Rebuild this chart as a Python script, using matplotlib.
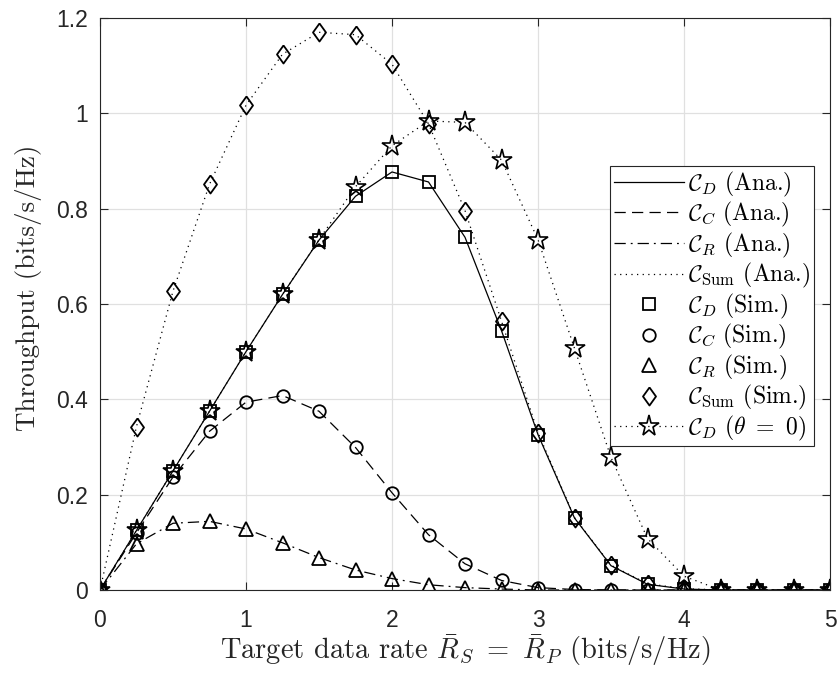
import matplotlib
matplotlib.use('Agg')
import matplotlib.pyplot as plt
import numpy as np

# target data rate grid
rate = [0, 0.25, 0.5, 0.75, 1, 1.25, 1.5, 1.75, 2, 2.25, 2.5, 2.75,
        3, 3.25, 3.5, 3.75, 4, 4.25, 4.5, 4.75, 5]

c_d = [0, 0.125, 0.25, 0.375, 0.5, 0.62, 0.734, 0.826, 0.877, 0.856, 0.740, 0.544,
       0.326, 0.151, 0.051, 0.012, 0.002, 0, 0, 0, 0]
c_c = [0, 0.12, 0.237, 0.333, 0.394, 0.408, 0.375, 0.299, 0.204, 0.116, 0.055, 0.020,
       0.005, 0.001, 0, 0, 0, 0, 0, 0, 0]
c_r = [0, 0.097, 0.140, 0.144, 0.128, 0.099, 0.068, 0.042, 0.024, 0.011, 0.005, 0.002,
       0, 0, 0, 0, 0, 0, 0, 0, 0]
c_sum = [0, 0.343, 0.627, 0.851, 1.017, 1.124, 1.170, 1.165, 1.103, 0.978, 0.796, 0.564,
         0.330, 0.152, 0.052, 0.013, 0.003, 0, 0, 0, 0]
c_d_theta0 = [0, 0.125, 0.25, 0.375, 0.5, 0.62, 0.735, 0.846, 0.932, 0.984, 0.981, 0.902,
              0.735, 0.507, 0.278, 0.108, 0.029, 0, 0, 0, 0]

plt.rcParams['mathtext.fontset'] = 'cm'
serif = 'cmr10'

fig = plt.figure(figsize=(8.4, 6.73), dpi=100)
ax = fig.add_axes([100/840, 83/673, 730/840, 572/673])

lw = 0.9
dot = (1, 3.5)
diamond = [(0, 1), (0.72, 0), (0, -1), (-0.72, 0), (0, 1)]

ax.plot(rate, c_d, '-', color='k', lw=lw, label=r'$\mathcal{C}_D$ (Ana.)')
ax.plot(rate, c_c, '--', color='k', lw=lw, dashes=(9, 5), label=r'$\mathcal{C}_C$ (Ana.)')
ax.plot(rate, c_r, '-.', color='k', lw=lw, dashes=(9, 4, 1.5, 4), label=r'$\mathcal{C}_R$ (Ana.)')
ax.plot(rate, c_sum, ':', color='k', lw=lw, dashes=dot, label=r'$\mathcal{C}_{\mathrm{Sum}}$ (Ana.)')

ms_kw = dict(ls='none', color='k', mfc='none', mew=1.3)
ax.plot(rate, c_d, marker='s', ms=8, label=r'$\mathcal{C}_D$ (Sim.)', **ms_kw)
ax.plot(rate, c_c, marker='o', ms=9, label=r'$\mathcal{C}_C$ (Sim.)', **ms_kw)
ax.plot(rate, c_r, marker='^', ms=10, label=r'$\mathcal{C}_R$ (Sim.)', **ms_kw)
ax.plot(rate, c_sum, marker=diamond, ms=13, label=r'$\mathcal{C}_{\mathrm{Sum}}$ (Sim.)', **ms_kw)
ax.plot(rate, c_d_theta0, ':', dashes=dot, marker='*', ms=15.5, color='k', mfc='none', mew=1.2,
        lw=lw, label=r'$\mathcal{C}_D$ $(\theta\ =\ 0)$')

ax.set_xlim(0, 5)
ax.set_ylim(0, 1.2)
ax.set_xticks([0, 1, 2, 3, 4, 5])
ax.set_yticks([0, 0.2, 0.4, 0.6, 0.8, 1.0, 1.2])
ax.set_yticklabels(['0', '0.2', '0.4', '0.6', '0.8', '1', '1.2'])
ax.tick_params(direction='in', top=True, right=True, length=6, width=0.8,
               labelsize=16.5, colors='#262626')
ax.tick_params(axis='x', pad=13.5)
ax.tick_params(axis='y', pad=8.5)
for lab in ax.get_xticklabels() + ax.get_yticklabels():
    lab.set_family('Liberation Sans')
    lab.set_color('#262626')
ax.grid(True, color='#e0e0e0', lw=0.9)
ax.set_axisbelow(True)
for s in ax.spines.values():
    s.set_color('#262626')
    s.set_linewidth(0.8)

ax.set_xlabel(r'Target data rate $\bar{R}_S\ =\ \bar{R}_P$ (bits/s/Hz)', family=serif,
              fontsize=20.5, color='#262626')
ax.set_ylabel('Throughput (bits/s/Hz)', family=serif, fontsize=19.5, color='#262626')
ax.xaxis.set_label_coords(0.5, -0.075)
ax.yaxis.set_label_coords(-0.079, 0.529)

leg = ax.legend(loc='upper right', bbox_to_anchor=(0.978, 0.741),
                prop={'family': serif, 'size': 17}, frameon=True, fancybox=False,
                edgecolor='#262626', framealpha=1, borderpad=0.15, labelspacing=0.06,
                handlelength=2.95, handletextpad=0.2, borderaxespad=0)
leg.get_frame().set_linewidth(0.8)

fig.savefig('out.png', dpi=100)
